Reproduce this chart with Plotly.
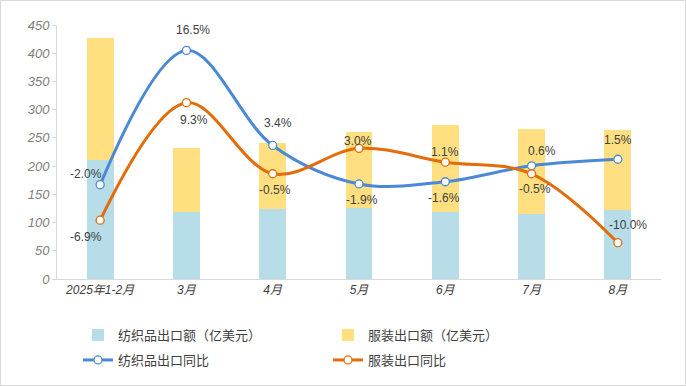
import plotly.graph_objects as go

months = ["2025年1-2月", "3月", "4月", "5月", "6月", "7月", "8月"]
textile_value = [211, 119, 124, 126, 119, 116, 122]
apparel_value = [216, 113, 117, 134, 154, 150, 142]
textile_yoy = [-2.0, 16.5, 3.4, -1.9, -1.6, 0.6, 1.5]
apparel_yoy = [-6.9, 9.3, -0.5, 3.0, 1.1, -0.5, -10.0]
y_ticks = [0, 50, 100, 150, 200, 250, 300, 350, 400, 450]

# label pixel offsets (style)
textile_off = [(-14, 11), (7, 20), (5, 22), (3, -16), (-1, -16), (10, 15), (0, 19)]
apparel_off = [(-14, -17), (8, -17), (2, -16), (-1, 7), (0, 10), (3, -15), (10, 18)]

BLUE = "#4A89D6"
ORANGE = "#E46C0A"
FONT = "Liberation Sans, Arial, Noto Sans CJK SC"
CJK = "Noto Sans CJK SC, Liberation Sans"

fig = go.Figure()
fig.add_trace(go.Bar(x=months, y=textile_value, name="纺织品出口额（亿美元）",
                     marker=dict(color="#B7DDE8", line=dict(width=0)), width=0.31, legend="legend"))
fig.add_trace(go.Bar(x=months, y=apparel_value, name="服装出口额（亿美元）",
                     marker=dict(color="#FFDF80", line=dict(width=0)), width=0.31, legend="legend"))
fig.add_trace(go.Scatter(x=months, y=textile_yoy, name="纺织品出口同比", yaxis="y2",
                         mode="lines+markers", line=dict(color=BLUE, width=3, shape="spline", smoothing=1.0),
                         marker=dict(size=8, color="white", line=dict(color=BLUE, width=1.3)),
                         legend="legend2"))
fig.add_trace(go.Scatter(x=months, y=apparel_yoy, name="服装出口同比", yaxis="y2",
                         mode="lines+markers", line=dict(color=ORANGE, width=3, shape="spline", smoothing=1.0),
                         marker=dict(size=8, color="white", line=dict(color=ORANGE, width=1.3)),
                         legend="legend2"))

annotations = []
for vals, offs in ((textile_yoy, textile_off), (apparel_yoy, apparel_off)):
    for m, v, (dx, dy) in zip(months, vals, offs):
        annotations.append(dict(x=m, y=v, xref="x", yref="y2", text=f"{v:.1f}%", showarrow=False,
                                xshift=dx, yshift=dy, font=dict(family=FONT, size=12, color="#404040")))

L, R, T, B = 57, 25, 25, 107
PW, PH = 686 - L - R, 386 - T - B

legend_common = dict(orientation="h", xref="container", yref="container", x=78 / 686,
                     xanchor="left", yanchor="middle", entrywidth=205, entrywidthmode="pixels",
                     font=dict(family=CJK, size=13, color="#404040"), bgcolor="rgba(0,0,0,0)",
                     traceorder="normal")

fig.update_layout(
    width=686, height=386,
    margin=dict(l=L, r=R, t=T, b=B),
    barmode="stack",
    plot_bgcolor="white", paper_bgcolor="white",
    font=dict(family=FONT, color="#404040"),
    xaxis=dict(showgrid=False, showline=True, linecolor="#D9D9D9", linewidth=1,
               ticks="", tickfont=dict(family=FONT, size=12, color="#404040", style="italic"),
               range=[-0.5, 6.5]),
    yaxis=dict(range=[0, 450], tickvals=y_ticks, showgrid=False, showline=True, linecolor="#D9D9D9",
               linewidth=1, ticks="outside", ticklen=4, tickcolor="#D9D9D9", zeroline=False,
               tickfont=dict(family=FONT, size=13, color="#7F7F7F", style="italic")),
    yaxis2=dict(overlaying="y", range=[-15, 20], visible=False),
    legend=dict(legend_common, y=(386 - 335) / 386),
    legend2=dict(legend_common, y=(386 - 360) / 386),
    annotations=annotations,
    shapes=[dict(type="rect", xref="paper", yref="paper",
                 x0=-(L - 0.5) / PW, x1=1 + (R - 0.5) / PW, y0=-(B - 0.5) / PH, y1=1 + (T - 0.5) / PH,
                 line=dict(color="#D9D9D9", width=1), fillcolor="rgba(0,0,0,0)", layer="below")],
)

fig.write_html("out.html", config={"displayModeBar": False},
               post_script="document.body.style.margin='0';document.body.style.overflow='hidden';")
